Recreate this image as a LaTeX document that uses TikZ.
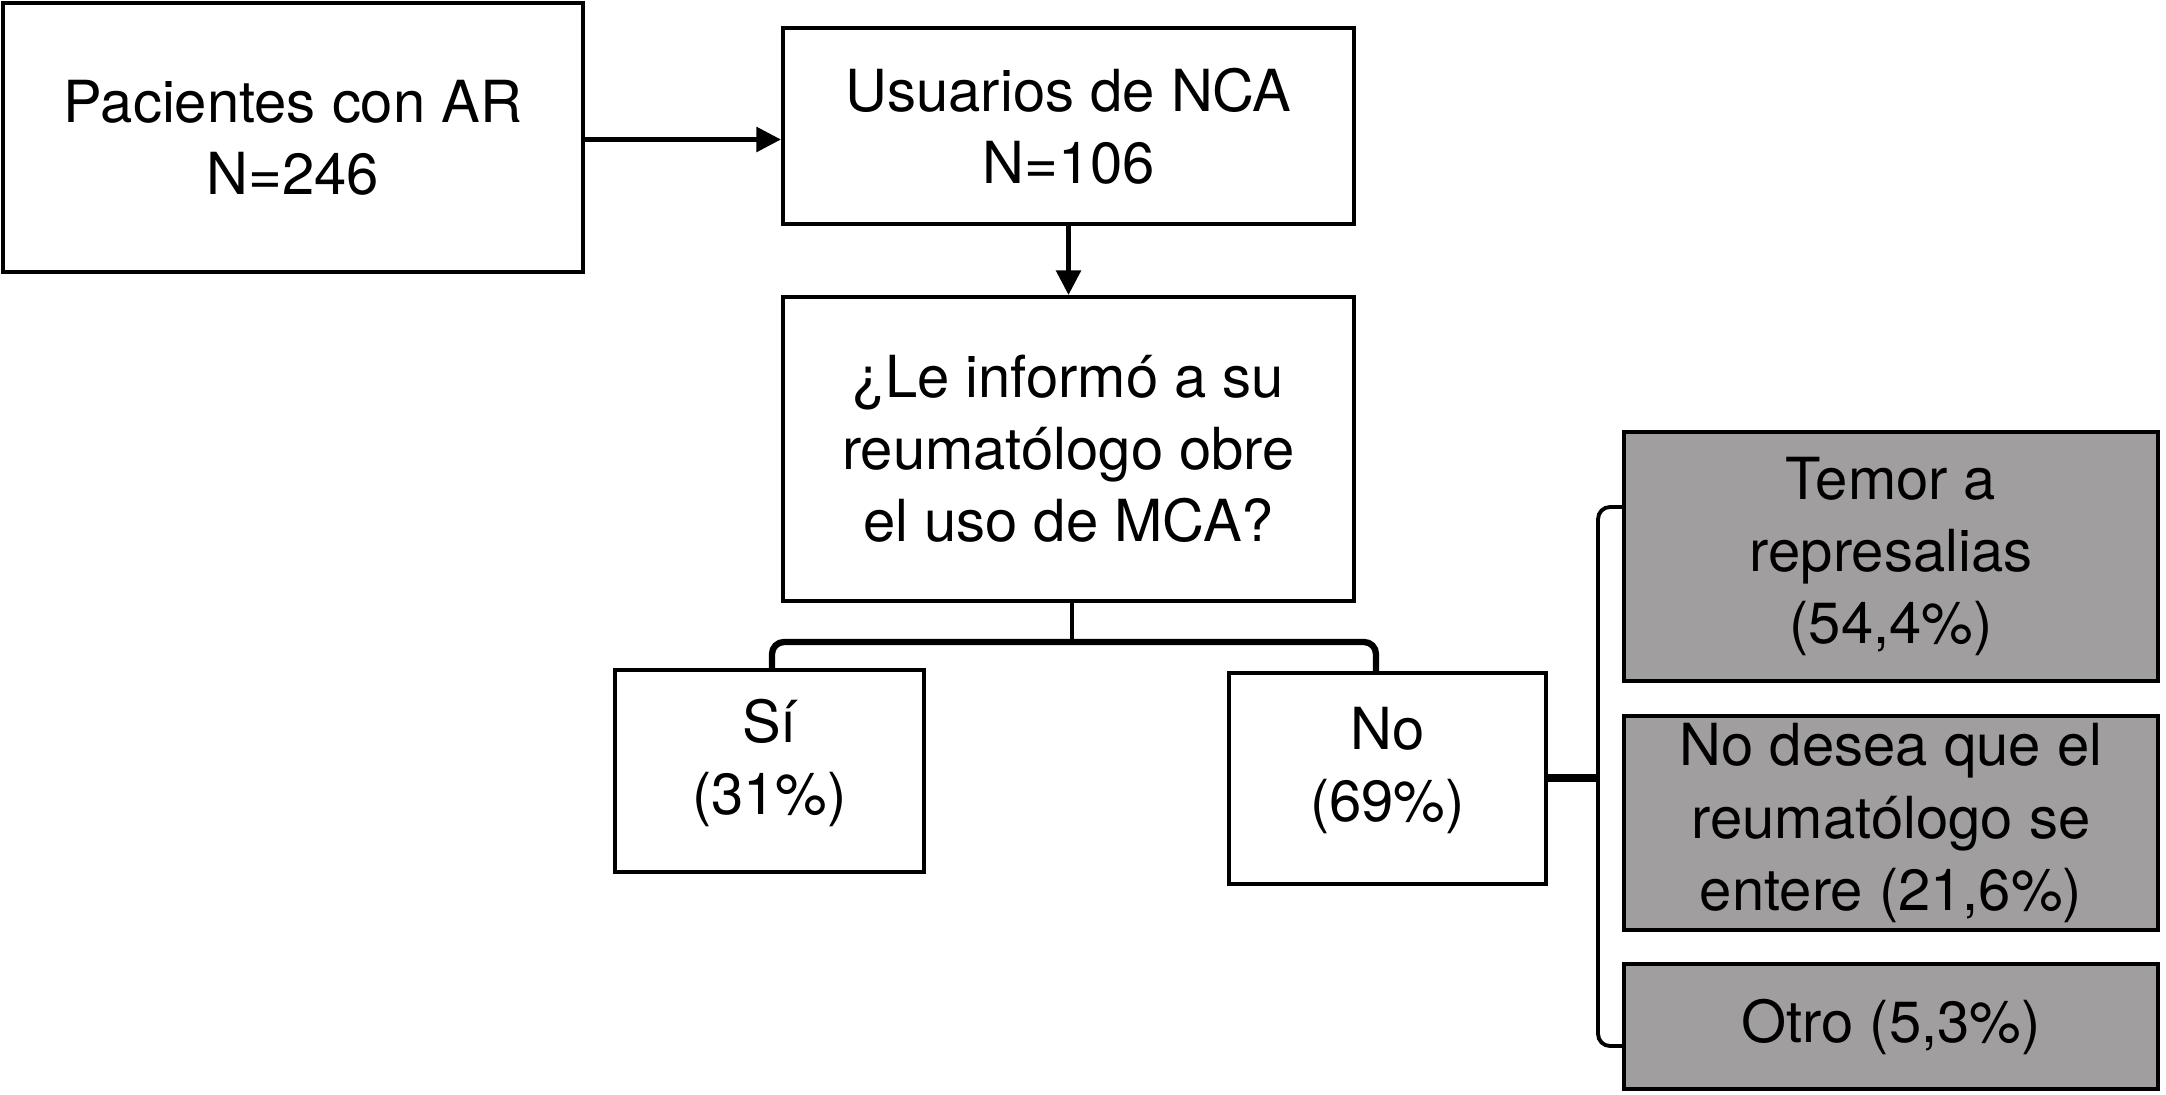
\documentclass[tikz,border=0pt]{standalone}
\usepackage{fontspec}
\setmainfont{TeX Gyre Heros}
\usetikzlibrary{arrows.meta}
\definecolor{gris}{RGB}{160,158,159}

\begin{document}
\begin{tikzpicture}[
    caja/.style={draw=black, line width=1.2pt, fill=white, align=center, inner sep=0pt,
        font=\fontsize{16.5}{20.5}\selectfont},
    cajagris/.style={caja, fill=gris},
    flecha/.style={line width=1.2pt, -{Triangle[length=7pt, width=7pt]}},
    ramal/.style={line width=1.8pt, rounded corners=0.12cm},
]
    \useasboundingbox (0,0) rectangle (21.66,-10.94);

    % Cajas principales
    \node[caja, minimum width=5.8cm, minimum height=2.69cm] (pac) at (2.93,-1.375) {Pacientes con AR\\N=246};
    \node[caja, minimum width=5.71cm, minimum height=1.96cm] (usu) at (10.685,-1.26) {Usuarios de NCA\\N=106};
    \node[caja, minimum width=5.71cm, minimum height=3.04cm] (preg) at (10.685,-4.49) {¿Le informó a su\\reumatólogo obre\\el uso de MCA?};

    % Respuestas
    \node[caja, minimum width=3.09cm, minimum height=2.02cm] (si) at (7.695,-7.71) {Sí\\(31\%)\rule[-0.28cm]{0pt}{0.1pt}};
    \node[caja, minimum width=3.17cm, minimum height=2.11cm] (no) at (13.875,-7.785) {No\\(69\%)\rule[-0.28cm]{0pt}{0.1pt}};

    % Motivos (cajas grises)
    \node[cajagris, minimum width=5.34cm, minimum height=2.49cm] (temor) at (18.91,-5.565) {Temor a\\represalias\\(54,4\%)};
    \node[cajagris, minimum width=5.34cm, minimum height=2.14cm] (desea) at (18.91,-8.23) {No desea que el\\reumatólogo se\\entere (21,6\%)};
    \node[cajagris, minimum width=5.34cm, minimum height=1.25cm] (otro) at (18.91,-10.265) {Otro (5,3\%)};

    % Flechas
    \draw[flecha] (pac.east |- 0,-1.395) -- (usu.west |- 0,-1.395);
    \draw[flecha] (usu.south) -- (preg.north);

    % Ramal Sí / No
    \coordinate (cruce) at (10.72,-6.42);
    \draw[line width=1pt] (preg.south -| cruce) -- (cruce);
    \draw[ramal] (si.north -| 7.72,0) |- (cruce) -| (no.north -| 13.76,0);

    % Llave de motivos
    \coordinate (llave) at (15.98,-7.78);
    \coordinate (llaveArriba) at (15.98,-5.07);
    \coordinate (llaveAbajo) at (15.98,-10.46);
    \draw[line width=2.2pt] (no.east |- llave) -- (llave);
    \draw[line width=1.1pt, rounded corners=0.12cm] (temor.west |- llaveArriba) -- (llaveArriba) -- (llaveAbajo) -- (otro.west |- llaveAbajo);
\end{tikzpicture}
\end{document}
